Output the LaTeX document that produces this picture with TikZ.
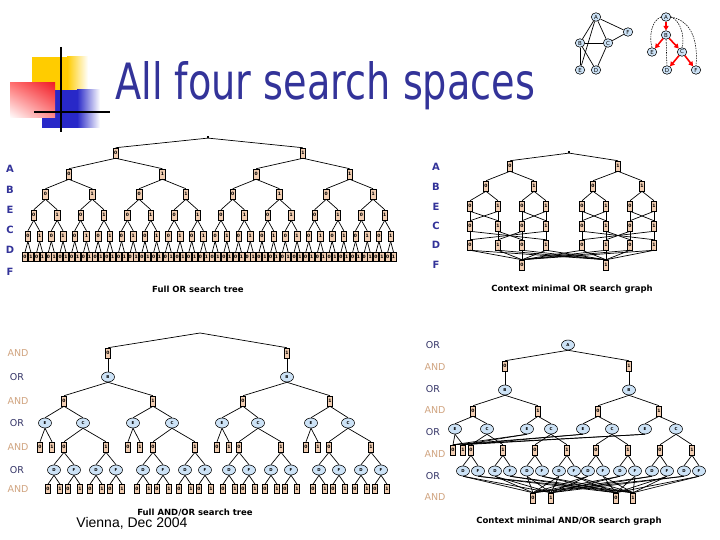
\documentclass[tikz,border=0pt]{standalone}
\usepackage{fontspec}
\setmainfont{DejaVu Sans}
\newfontfamily\viennafont{Liberation Sans}
\usepackage{graphicx}
\usepackage{tikz}
\usetikzlibrary{shapes.geometric,arrows.meta,calc,shadings}
\definecolor{titleblue}{RGB}{51,51,153}
\definecolor{boxfill}{RGB}{242,206,178}
\definecolor{varfill}{RGB}{204,226,246}
\definecolor{andtan}{RGB}{208,164,128}
\definecolor{ornavy}{RGB}{51,51,102}
\definecolor{decoyellow}{RGB}{255,204,0}
\definecolor{decored}{RGB}{240,30,40}
\definecolor{decoblue}{RGB}{40,40,200}
\tikzset{
  >=Stealth,
  valbox/.style={draw, fill=boxfill, line width=0.55pt, inner sep=0pt,
    minimum width=5.5pt, minimum height=10pt, font=\bfseries\fontsize{4.5}{4.5}\selectfont},
  leafbox/.style={valbox, minimum width=5pt, minimum height=9pt},
  varnode/.style={draw, ellipse, fill=varfill, line width=0.55pt, inner sep=0pt,
    minimum width=13pt, minimum height=10pt, font=\bfseries\fontsize{4}{4}\selectfont},
  gnode/.style={varnode, minimum width=9.5pt, minimum height=8.5pt, font=\fontsize{5.5}{5.5}\selectfont},
  rootdot/.style={fill, inner sep=0pt, minimum size=1.8pt},
  link/.style={line width=0.7pt},
  lvl/.style={font=\bfseries\fontsize{10}{10}\selectfont, text=titleblue},
  andlbl/.style={font=\fontsize{9.5}{9.5}\selectfont, text=andtan},
  orlbl/.style={font=\fontsize{9.5}{9.5}\selectfont, text=ornavy},
  captext/.style={font=\bfseries\fontsize{8.5}{8.5}\selectfont},
  treearrow/.style={red, line width=1.6pt, -{Triangle[length=4.5pt,width=5pt]}},
  backedge/.style={line width=0.55pt, dash pattern=on 1.5pt off 1pt},
}

\begin{document}
\begin{tikzpicture}[x=1pt, y=-1pt]
\useasboundingbox (0,0) rectangle (720,540);

% slide decoration
\fill[decoyellow] (32,57) rectangle (67,90);
\shade[left color=decoyellow, right color=white] (67,57) rectangle (88,90);
\fill[decoblue] (42,90) rectangle (77,128);
\shade[left color=decoblue, right color=white] (77,90) rectangle (100,128);
\shade[upper left=red!55, upper right=decored, lower left=white, lower right=red!45] (10,83) rectangle (55,118);
\draw[line width=1.8pt] (61,47) -- (61,132);
\draw[line width=1.8pt] (34,112) -- (110,112);

\node[anchor=base west, inner sep=0pt, text=titleblue] (title) at (115,100)
  {\resizebox{420pt}{38pt}{All four search spaces}};

% primal graph and pseudo tree
\foreach \v/\x/\y in {A/596/17,F/628/32,B/580/43,C/608/43,E/580/70,D/596/70}
  \node[gnode] (g-\v) at (\x,\y) {\v};
\foreach \u/\v in {A/B,A/E,A/C,A/F,B/C,B/E,B/D,C/D,C/F}
  \draw[link] (g-\u) -- (g-\v);

\foreach \v/\x/\y in {A/666/17,B/666/35,E/652/52,C/682/52,D/667/70,F/696/70}
  \node[gnode] (t-\v) at (\x,\y) {\v};
\draw[backedge] (t-A.west) .. controls +(-10,4) and +(-3,-10) .. (t-E.north);
\draw[backedge] (t-A.east) .. controls +(10,4) and +(3,-10) .. (t-C.north);
\draw[backedge] (t-A.east) .. controls +(22,4) and +(2,-22) .. (t-F.north);
\draw[backedge] (t-B) -- (t-D);
\foreach \u/\v in {A/B,B/E,B/C,C/D,C/F}
  \draw[treearrow] (t-\u) -- (t-\v);

% full OR search tree
\node[rootdot] (ft-0-0) at (208,137) {};
\foreach \k/\y in {1/153,2/174,3/194,4/215,5/236}{
  \pgfmathtruncatemacro{\n}{2^\k-1}
  \pgfmathsetmacro{\w}{64/2^\k}
  \foreach \j in {0,...,\n}{
    \pgfmathtruncatemacro{\v}{mod(\j,2)}
    \node[valbox] (ft-\k-\j) at ({25+5.85*((\j+0.5)*\w-0.5)},\y) {\v};
  }
}
\foreach \j in {0,...,63}{
  \pgfmathtruncatemacro{\v}{mod(\j,2)}
  \node[leafbox] (ft-6-\j) at ({25+5.85*\j},257) {\v};
}
\foreach \k in {0,...,5}{
  \pgfmathtruncatemacro{\n}{2^\k-1}
  \pgfmathtruncatemacro{\kk}{\k+1}
  \foreach \j in {0,...,\n}{
    \pgfmathtruncatemacro{\lc}{2*\j}
    \pgfmathtruncatemacro{\rc}{2*\j+1}
    \draw[link] (ft-\k-\j.south) -- (ft-\kk-\lc.north);
    \draw[link] (ft-\k-\j.south) -- (ft-\kk-\rc.north);
  }
}
\foreach \v/\y in {A/169,B/190,E/210,C/230,D/250,F/272}
  \node[lvl] (ftl-\v) at (10,\y) {\v};
\node[captext] (cap-ft) at (198,289) {Full OR search tree};

% context minimal OR search graph
\node[rootdot] (co-r) at (569,152) {};
\foreach \i/\x in {0/510,1/618}{
  \node[valbox] (co-a-\i) at (\x,166) {\i};
  \draw[link] (co-r.south) -- (co-a-\i.north);
}
\foreach \i/\x/\p in {0/486/0,1/534/0,2/593/1,3/642/1}{
  \pgfmathtruncatemacro{\v}{mod(\i,2)}
  \node[valbox] (co-b-\i) at (\x,186) {\v};
  \draw[link] (co-a-\p.south) -- (co-b-\i.north);
}
\foreach \i/\x in {0/470,1/498,2/522,3/546,4/582,5/606,6/630,7/654}{
  \pgfmathtruncatemacro{\v}{mod(\i,2)}
  \pgfmathtruncatemacro{\p}{\i/2}
  \node[valbox] (co-e-\i) at (\x,206) {\v};
  \node[valbox] (co-c-\i) at (\x,226) {\v};
  \node[valbox] (co-d-\i) at (\x,245) {\v};
  \draw[link] (co-b-\p.south) -- (co-e-\i.north);
}
\node[valbox] (co-f-0) at (522,265) {0};
\node[valbox] (co-f-1) at (606,265) {1};
\foreach \i in {0,...,7}{
  \pgfmathtruncatemacro{\lo}{2*int(\i/2)}
  \pgfmathtruncatemacro{\hi}{2*int(\i/2)+1}
  \pgfmathtruncatemacro{\mir}{8*int(\i/4)+3-\i}
  \draw[link] (co-e-\i.south) -- (co-c-\lo.north);
  \draw[link] (co-e-\i.south) -- (co-c-\hi.north);
  \draw[link] (co-c-\i.south) -- (co-d-\i.north);
  \draw[link] (co-c-\i.south) -- (co-d-\mir.north);
  \draw[link] (co-d-\i.south) -- (co-f-0.north);
  \draw[link] (co-d-\i.south) -- (co-f-1.north);
}
\foreach \v/\y in {A/167,B/187,E/207,C/226,D/245,F/265}
  \node[lvl] (col-\v) at (436,\y) {\v};
\node[captext] (cap-co) at (572,289) {Context minimal OR search graph};

% full AND/OR search tree
\coordinate (fa-root) at (200,333);
\foreach \i/\x in {0/108,1/287}{
  \node[valbox] (fa-a-\i) at (\x,353) {\i};
  \node[varnode] (fa-b-\i) at (\x,377) {B};
  \draw[link] (fa-root) -- (fa-a-\i.north);
  \draw[link] (fa-a-\i) -- (fa-b-\i);
}
\foreach \m/\x/\p in {0/64/0,1/153/0,2/243/1,3/330/1}{
  \pgfmathtruncatemacro{\v}{mod(\m,2)}
  \node[valbox] (fa-ab-\m) at (\x,401) {\v};
  \draw[link] (fa-b-\p.south) -- (fa-ab-\m.north);
}
\foreach \m/\xe/\xc in {0/45/83,1/133/172,2/222/258,3/311/348}{
  \node[varnode] (fa-e-\m) at (\xe,423) {E};
  \node[varnode] (fa-c-\m) at (\xc,423) {C};
  \draw[link] (fa-ab-\m.south) -- (fa-e-\m.north);
  \draw[link] (fa-ab-\m.south) -- (fa-c-\m.north);
  \foreach \v/\off in {0/-5,1/7}{
    \node[valbox] (fa-ev-\m-\v) at ({\xe+\off},447) {\v};
    \draw[link] (fa-e-\m.south) -- (fa-ev-\m-\v.north);
  }
  \foreach \v/\off in {0/-19,1/23}{
    \pgfmathsetmacro{\xv}{\xc+\off}
    \node[valbox] (fa-cv-\m-\v) at (\xv,447) {\v};
    \draw[link] (fa-c-\m.south) -- (fa-cv-\m-\v.north);
    \foreach \s/\lt/\so in {d/D/-10,f/F/10}{
      \pgfmathsetmacro{\xs}{\xv+\so}
      \node[varnode] (fa-\s-\m-\v) at (\xs,470) {\lt};
      \draw[link] (fa-cv-\m-\v.south) -- (fa-\s-\m-\v.north);
      \foreach \w/\wo in {0/-6,1/6}{
        \node[leafbox] (fa-\s-\m-\v-\w) at ({\xs+\wo},489) {\w};
        \draw[link] (fa-\s-\m-\v.south) -- (fa-\s-\m-\v-\w.north);
      }
    }
  }
}
\foreach \y in {353,401,447,489}
  \node[andlbl] (fal-\y) at (18,\y) {AND};
\foreach \y in {377,423,470}
  \node[orlbl] (fal-\y) at (17,\y) {OR};
\node[captext] (cap-fa) at (195,513) {Full AND/OR search tree};
\node[font=\viennafont\fontsize{14}{14}\selectfont] (vienna) at (132,523) {Vienna, Dec 2004};

% context minimal AND/OR search graph
\node[varnode] (ca-A) at (568,345) {A};
\foreach \i/\x in {0/505,1/629}{
  \node[valbox] (ca-a-\i) at (\x,366) {\i};
  \node[varnode] (ca-b-\i) at (\x,390) {B};
  \draw[link] (ca-A.south) -- (ca-a-\i.north);
  \draw[link] (ca-a-\i) -- (ca-b-\i);
}
\foreach \m/\x/\p in {0/473/0,1/538/0,2/598/1,3/659/1}{
  \pgfmathtruncatemacro{\v}{mod(\m,2)}
  \node[valbox] (ca-ab-\m) at (\x,411) {\v};
  \draw[link] (ca-b-\p.south) -- (ca-ab-\m.north);
}
\node[valbox] (ca-ev-0) at (453,450) {0};
\node[valbox] (ca-ev-1) at (463,450) {1};
\node[valbox] (ca-dv-0) at (533,498) {0};
\node[valbox] (ca-dv-1) at (551,498) {1};
\node[valbox] (ca-fv-0) at (616,498) {0};
\node[valbox] (ca-fv-1) at (633,498) {1};
\foreach \m/\xe/\xc in {0/455/487,1/527/551,2/583/612,3/645/676}{
  \node[varnode] (ca-e-\m) at (\xe,429) {E};
  \node[varnode] (ca-c-\m) at (\xc,429) {C};
  \draw[link] (ca-ab-\m.south) -- (ca-e-\m.north);
  \draw[link] (ca-ab-\m.south) -- (ca-c-\m.north);
  \draw[link] (ca-e-\m.south) -- (ca-ev-0.north);
  \draw[link] (ca-e-\m.south) -- (ca-ev-1.north);
  \foreach \v/\off in {0/-16,1/16}{
    \pgfmathsetmacro{\xv}{\xc+\off}
    \node[valbox] (ca-cv-\m-\v) at (\xv,450) {\v};
    \draw[link] (ca-c-\m.south) -- (ca-cv-\m-\v.north);
    \node[varnode] (ca-d-\m-\v) at ({\xv-8},471) {D};
    \node[varnode] (ca-f-\m-\v) at ({\xv+7},471) {F};
    \draw[link] (ca-cv-\m-\v.south) -- (ca-d-\m-\v.north);
    \draw[link] (ca-cv-\m-\v.south) -- (ca-f-\m-\v.north);
    \foreach \w in {0,1}{
      \draw[link] (ca-d-\m-\v.south) -- (ca-dv-\w.north);
      \draw[link] (ca-f-\m-\v.south) -- (ca-fv-\w.north);
    }
  }
}
\foreach \y in {367,410,454,497}
  \node[andlbl] (cal-\y) at (435,\y) {AND};
\foreach \y in {345,389,432,476}
  \node[orlbl] (cal-\y) at (433,\y) {OR};
\node[captext] (cap-ca) at (569,521) {Context minimal AND/OR search graph};
\end{tikzpicture}
\end{document}
